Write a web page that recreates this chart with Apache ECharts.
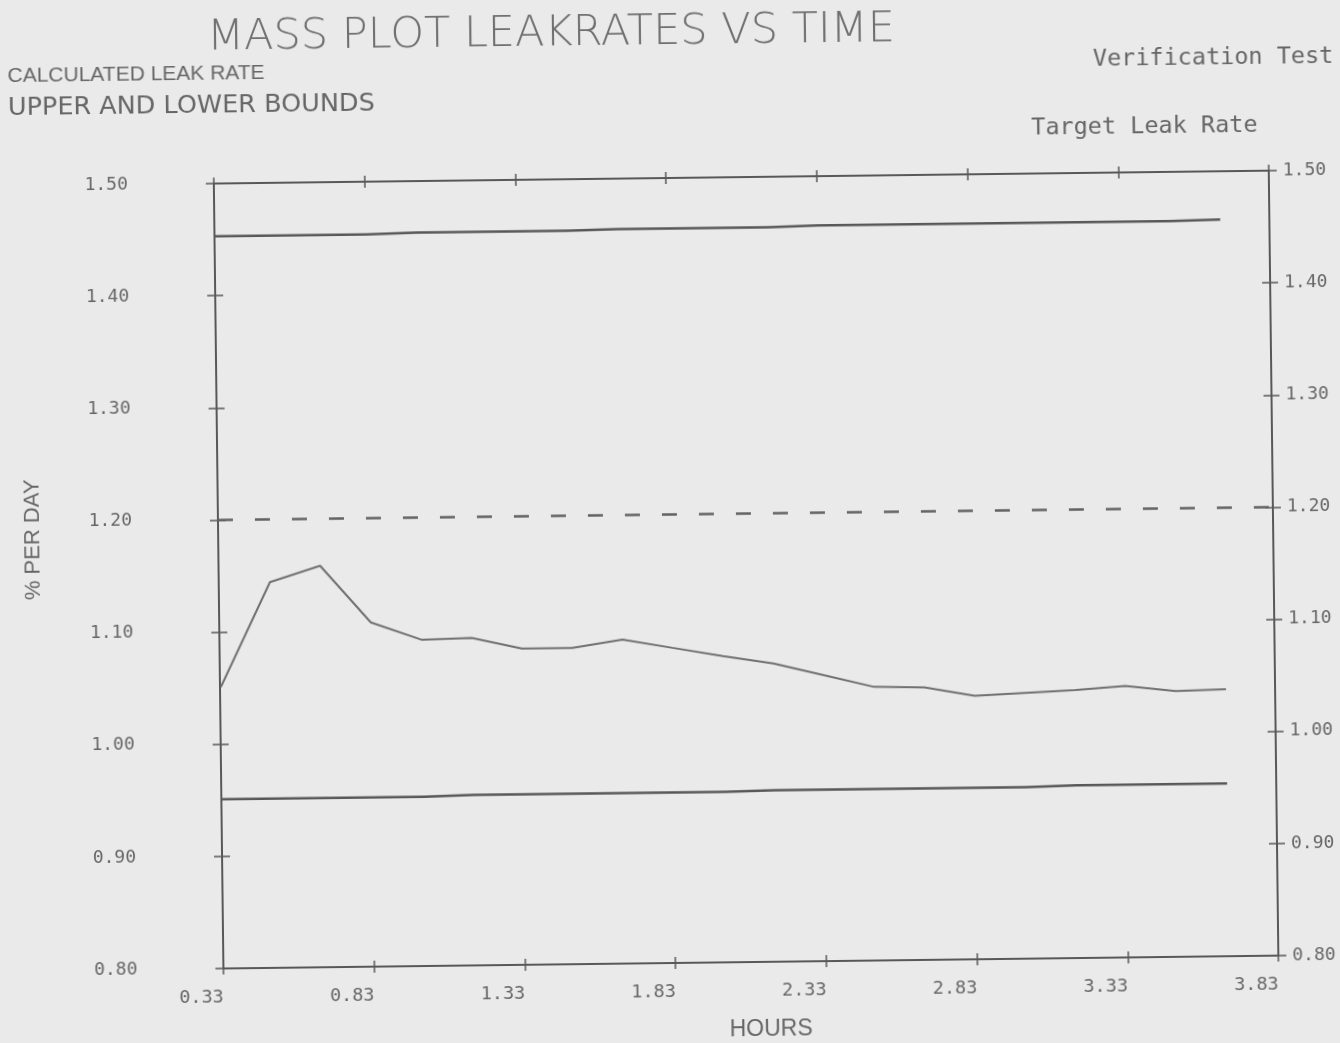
<!DOCTYPE html>
<html>
<head>
<meta charset="utf-8">
<script src="https://cdn.jsdelivr.net/npm/echarts@6/dist/echarts.min.js"></script>
<style>
  html, body { margin: 0; padding: 0; background: #eaeaea; overflow: hidden; }
  #chart { position: absolute; left: 0; top: 0; width: 1340px; height: 1043px;
           transform: rotate(-0.7deg); transform-origin: 50% 50%; }
</style>
</head>
<body>
<div id="chart"></div>
<script>
// ---- data ----
const hours = [0.333, 0.5, 0.667, 0.833, 1.0, 1.167, 1.333, 1.5, 1.667, 1.833, 2.0,
               2.167, 2.333, 2.5, 2.667, 2.833, 3.0, 3.167, 3.333, 3.5, 3.667];
const calculatedRate = [1.051, 1.144, 1.158, 1.107, 1.091, 1.092, 1.082, 1.082, 1.089, 1.081, 1.073,
                        1.066, 1.055, 1.044, 1.043, 1.035, 1.037, 1.039, 1.042, 1.037, 1.038];
const upperBound = [1.453, 1.453, 1.453, 1.453, 1.454, 1.454, 1.454, 1.454, 1.455, 1.455, 1.455,
                    1.455, 1.456, 1.456, 1.456, 1.456, 1.456, 1.456, 1.456, 1.456, 1.457];
const lowerBound = [0.951, 0.951, 0.951, 0.951, 0.951, 0.952, 0.952, 0.952, 0.952, 0.952, 0.952,
                    0.953, 0.953, 0.953, 0.953, 0.953, 0.953, 0.954, 0.954, 0.954, 0.954];
const targetHours = [0.33, 3.83];
const targetRate = [1.20, 1.20];
const xTicks = { min: 0.33, max: 3.83, step: 0.5 };
const yTicks = { min: 0.80, max: 1.50, step: 0.10 };

const titleText = 'MASS PLOT LEAKRATES VS TIME';
const legendLine1 = 'CALCULATED LEAK RATE';
const legendLine2 = 'UPPER AND LOWER BOUNDS';
const noteRight1 = 'Verification Test';
const noteRight2 = 'Target Leak Rate';
const xName = 'HOURS';
const yName = '% PER DAY';

// ---- styling ----
const INK = '#585858';
const TXT = '#666666';
const MONO = '"DejaVu Sans Mono", monospace';
const SANS = '"Liberation Sans", Arial, sans-serif';

const pairs = (xs, ys) => xs.map((x, i) => [x, ys[i]]);

function xAx(position, tickInside, showLine, showLabel) {
  return {
    type: 'value', position, min: xTicks.min, max: xTicks.max, interval: xTicks.step,
    axisLine: { show: showLine, onZero: false, lineStyle: { color: INK, width: 2 } },
    axisTick: { show: true, inside: tickInside, length: 6, lineStyle: { color: INK, width: 1.5 } },
    axisLabel: { show: showLabel, margin: 20, align: 'right', color: TXT, fontFamily: MONO, fontSize: 18.5,
                 formatter: v => v.toFixed(2) },
    splitLine: { show: false }
  };
}
function yAx(position, tickInside, showLine, showLabel, margin, pad) {
  return {
    type: 'value', position, min: yTicks.min, max: yTicks.max, interval: yTicks.step,
    axisLine: { show: showLine, onZero: false, lineStyle: { color: INK, width: 2 } },
    axisTick: { show: true, inside: tickInside, length: 8, lineStyle: { color: INK, width: 1.5 } },
    axisLabel: { show: showLabel, margin: margin, color: TXT, fontFamily: MONO, fontSize: 18,
                 padding: pad, formatter: v => v.toFixed(2) },
    splitLine: { show: false }
  };
}

const chart = echarts.init(document.getElementById('chart'), null, { renderer: 'canvas' });
chart.setOption({
  animation: false,
  grid: { left: 218, right: 67, top: 178, bottom: 80, containLabel: false },
  xAxis: [
    xAx('bottom', false, true, true),
    xAx('bottom', true, false, false),
    xAx('top', false, true, false),
    xAx('top', true, false, false)
  ],
  yAxis: [
    yAx('left', false, true, true, 86, [12, 0, 0, 0]),
    yAx('left', true, false, false, 8, 0),
    yAx('right', false, true, true, 14, 0),
    yAx('right', true, false, false, 8, 0)
  ],
  graphic: [
    { type: 'text', left: 213, top: 11, style: { text: titleText, fill: '#707070', fontFamily: '"DejaVu Sans"', fontWeight: 200, fontSize: 43 } },
    { type: 'text', x: 13, y: 68, style: { text: legendLine1, fill: TXT, fontFamily: SANS, fontSize: 21, verticalAlign: 'middle' } },
    { type: 'text', x: 13, y: 100, style: { text: legendLine2, fill: TXT, fontFamily: '"DejaVu Sans"', fontSize: 25.5, verticalAlign: 'middle' } },
    { type: 'text', x: 1339, y: 65, style: { text: noteRight1, fill: TXT, fontFamily: MONO, fontSize: 23.5, align: 'right', verticalAlign: 'middle' } },
    { type: 'text', x: 1036, y: 133, style: { text: noteRight2, fill: TXT, fontFamily: MONO, fontSize: 23.5, verticalAlign: 'middle' } },
    { type: 'text', x: 765, y: 1031, style: { text: xName, fill: TXT, fontFamily: SANS, fontSize: 23, align: 'center', verticalAlign: 'middle' } },
    { type: 'text', x: 33, y: 532, rotation: Math.PI / 2, style: { text: yName, fill: TXT, fontFamily: SANS, fontSize: 22, align: 'center', verticalAlign: 'middle' } }
  ],
  series: [
    { name: 'Upper bound', type: 'line', xAxisIndex: 0, yAxisIndex: 0, symbol: 'none',
      data: pairs(hours, upperBound), lineStyle: { color: INK, width: 2.5 } },
    { name: 'Lower bound', type: 'line', xAxisIndex: 0, yAxisIndex: 0, symbol: 'none',
      data: pairs(hours, lowerBound), lineStyle: { color: INK, width: 2.5 } },
    { name: 'Target Leak Rate', type: 'line', xAxisIndex: 0, yAxisIndex: 0, symbol: 'none',
      data: pairs(targetHours, targetRate), lineStyle: { color: '#626262', width: 2.5, type: [15, 22] } },
    { name: 'Calculated Leak Rate', type: 'line', xAxisIndex: 0, yAxisIndex: 0, symbol: 'none',
      data: pairs(hours, calculatedRate), lineStyle: { color: '#707070', width: 2 } }
  ]
});
</script>
</body>
</html>
